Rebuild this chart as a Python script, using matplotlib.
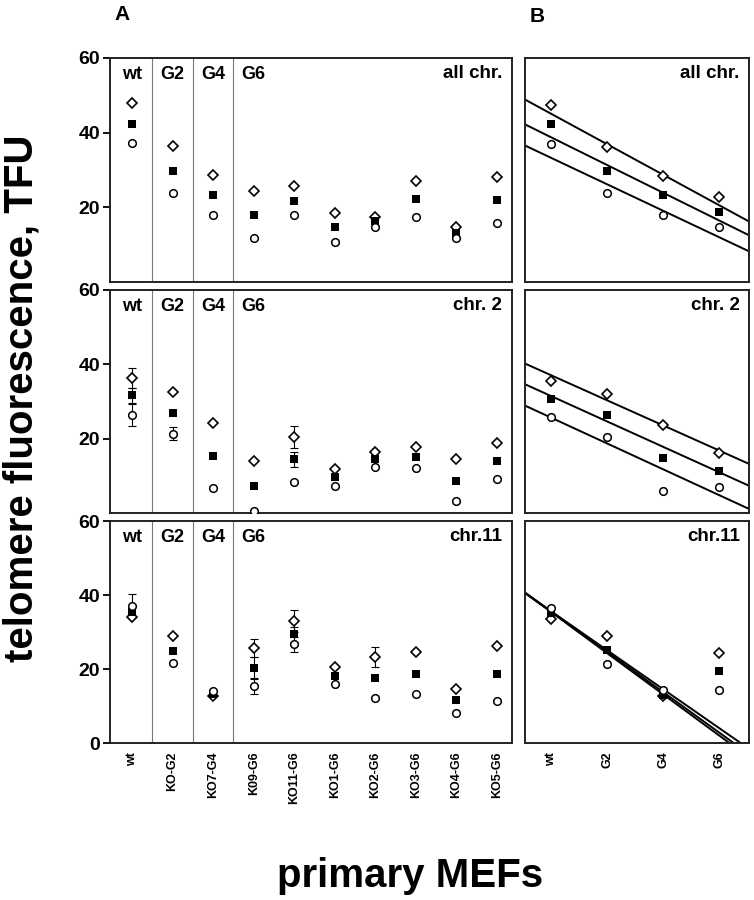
import numpy as np
import matplotlib
matplotlib.use("Agg")
import matplotlib.pyplot as plt

plt.rcParams["font.family"] = ["Liberation Sans", "DejaVu Sans"]
plt.rcParams["font.weight"] = "bold"

# --- data ---
samples = ["wt", "KO-G2", "KO7-G4", "K09-G6", "KO11-G6",
           "KO1-G6", "KO2-G6", "KO3-G6", "KO4-G6", "KO5-G6"]
groups = ["wt", "G2", "G4", "G6"]

all_hi = [47.9, 36.3, 28.7, 24.4, 25.8, 18.4, 17.5, 26.9, 14.6, 28.0]
all_mid = [42.3, 29.7, 23.3, 17.9, 21.8, 14.6, 16.2, 22.2, 13.0, 22.0]
all_lo = [37.1, 23.7, 17.9, 11.7, 17.9, 10.8, 14.6, 17.5, 11.7, 15.9]

chr2_hi = [36.4, 32.4, 24.1, 14.0, 20.4, 11.8, 16.3, 17.8, 14.4, 18.7]
chr2_mid = [31.6, 26.8, 15.2, 7.3, 14.4, 9.6, 14.4, 15.0, 8.6, 14.0]
chr2_lo = [26.4, 21.3, 6.6, 0.5, 8.4, 7.3, 12.3, 12.0, 3.2, 9.2]
chr2_hi_err = [2.7, 0, 0, 0, 2.9, 0, 0, 0, 0, 0]
chr2_mid_err = [2.0, 0, 0, 0, 2.0, 0, 0, 0, 0, 0]
chr2_lo_err = [3.0, 1.8, 0, 0, 0, 0, 0, 0, 0, 0]

chr11_hi = [34.1, 29.0, 12.7, 25.8, 33.0, 20.6, 23.3, 24.7, 14.8, 26.3]
chr11_mid = [35.5, 24.9, 13.2, 20.4, 29.5, 18.2, 17.6, 18.8, 11.6, 18.6]
chr11_lo = [37.0, 21.6, 14.1, 15.4, 26.8, 15.9, 12.2, 13.4, 8.3, 11.4]
chr11_hi_err = [0, 0, 0, 2.5, 2.9, 0, 2.8, 0, 0, 0]
chr11_mid_err = [0, 0, 0, 3.0, 2.0, 0, 0, 0, 0, 0]
chr11_lo_err = [3.2, 0, 0, 2.2, 2.0, 0, 0, 0, 0, 0]

gen = [0, 2, 4, 6]
b_all_hi = [47.4, 36.1, 28.4, 22.7]
b_all_mid = [42.2, 29.6, 23.2, 18.6]
b_all_lo = [37.0, 23.7, 17.8, 14.6]
b_chr2_hi = [35.5, 31.9, 23.7, 16.2]
b_chr2_mid = [30.7, 26.4, 14.7, 11.4]
b_chr2_lo = [25.9, 20.5, 6.0, 7.1]
b_chr11_hi = [33.7, 29.0, 12.7, 24.3]
b_chr11_mid = [35.3, 25.1, 13.1, 19.5]
b_chr11_lo = [36.6, 21.4, 14.5, 14.5]

# regression lines (intercept, slope) per series: diamond, square, circle
fit_all = [(45.0, -4.08), (38.7, -3.71), (33.2, -3.54)]
fit_chr2 = [(37.0, -3.37), (31.4, -3.41), (25.6, -3.47)]
fit_chr11 = [(35.6, -5.25), (35.6, -5.45), (35.4, -5.55)]

panel_titles = ["all chr.", "chr. 2", "chr.11"]

# --- figure ---
fig = plt.figure(figsize=(7.54, 9.0), dpi=100)

rows = [(0.6867, 0.249), (0.430, 0.248), (0.174, 0.247)]
a_left, a_w = 0.146, 0.533
b_left, b_w = 0.696, 0.297

styles = [dict(marker="D", ms=5.2, mfc="white", mec="black", mew=1.2),
          dict(marker="s", ms=5.5, mfc="black", mec="black", mew=0),
          dict(marker="o", ms=5.5, mfc="white", mec="black", mew=1.1)]


def frame(ax):
    for s in ax.spines.values():
        s.set_linewidth(1.4)
        s.set_color("#222222")


a_series = [(all_hi, all_mid, all_lo, None),
            (chr2_hi, chr2_mid, chr2_lo, (chr2_hi_err, chr2_mid_err, chr2_lo_err)),
            (chr11_hi, chr11_mid, chr11_lo, (chr11_hi_err, chr11_mid_err, chr11_lo_err))]
b_series = [(b_all_hi, b_all_mid, b_all_lo, fit_all),
            (b_chr2_hi, b_chr2_mid, b_chr2_lo, fit_chr2),
            (b_chr11_hi, b_chr11_mid, b_chr11_lo, fit_chr11)]

x = np.arange(len(samples))

for r, (bottom, height) in enumerate(rows):
    # panel A
    ax = fig.add_axes([a_left, bottom, a_w, height])
    frame(ax)
    ax.set_xlim(-0.54, 9.37)
    ax.set_ylim(0, 60)
    for sep in [0.5, 1.5, 2.5]:
        ax.axvline(sep, color="#777777", lw=0.8, zorder=1)
    hi, mid, lo, errs = a_series[r]
    if errs is not None:
        for vals, err in zip((hi, mid, lo), errs):
            err = np.array(err)
            idx = err > 0
            ax.errorbar(x[idx], np.array(vals)[idx], yerr=err[idx], fmt="none",
                        ecolor="black", elinewidth=0.8, capsize=3, capthick=0.8,
                        zorder=2)
    for vals, st in zip((hi, mid, lo), styles):
        ax.plot(x, vals, ls="none", zorder=3, **st)
    for i, g in enumerate(groups):
        ax.text(i, 55.5, g, ha="center", va="center", fontsize=13,
                fontweight="bold")
    ax.text(0.975, 0.93, panel_titles[r], transform=ax.transAxes,
            ha="right", va="center", fontsize=13.5, fontweight="bold")
    ax.set_yticks([0, 20, 40, 60] if r == 2 else [20, 40, 60])
    ax.tick_params(axis="y", direction="out", length=5, width=1.3,
                   labelsize=14, pad=2)
    for lab in ax.get_yticklabels():
        lab.set_fontweight("bold")
    if r == 2:
        ax.set_xticks(x)
        ax.set_xticklabels(samples, rotation=90, fontsize=9, fontweight="bold")
        ax.tick_params(axis="x", length=0, pad=6)
    else:
        ax.set_xticks([])

    # panel B
    bx = fig.add_axes([b_left, bottom, b_w, height])
    frame(bx)
    bx.set_xlim(-0.95, 7.05)
    bx.set_ylim(0, 60)
    bhi, bmid, blo, fits = b_series[r]
    xl = np.array(bx.get_xlim())
    for a0, a1 in fits:
        bx.plot(xl, a0 + a1 * xl, color="black", lw=1.4, zorder=2)
    for vals, st in zip((bhi, bmid, blo), styles):
        bx.plot(gen, vals, ls="none", zorder=3, **st)
    bx.text(0.96, 0.93, panel_titles[r], transform=bx.transAxes,
            ha="right", va="center", fontsize=13.5, fontweight="bold")
    bx.set_yticks([])
    if r == 2:
        bx.set_xticks(gen)
        bx.set_xticklabels(groups, rotation=90, fontsize=9, fontweight="bold")
        bx.tick_params(axis="x", length=0, pad=6)
    else:
        bx.set_xticks([])

fig.text(122 / 754, 1 - 14 / 900, "A", ha="center", va="center",
         fontsize=15, fontweight="bold")
fig.text(537 / 754, 1 - 16 / 900, "B", ha="center", va="center",
         fontsize=15, fontweight="bold")
fig.text(22 / 754, 1 - 398 / 900, "telomere fluorescence, TFU", rotation=90,
         ha="center", va="center", fontsize=29, fontweight="bold")
fig.text(410 / 754, 1 - 876 / 900, "primary MEFs", ha="center", va="center",
         fontsize=29, fontweight="bold")

fig.savefig("out.png", dpi=100)
